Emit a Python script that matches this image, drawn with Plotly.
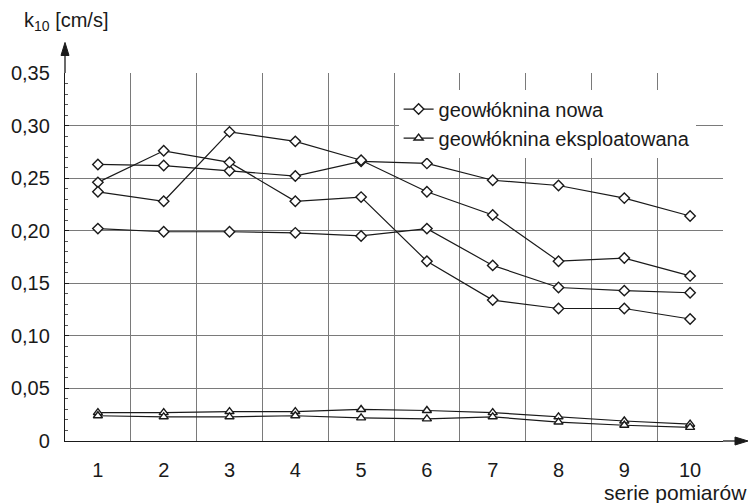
import numpy as np
import plotly.graph_objects as go

x = list(range(1, 11))
x_labels = [str(i) for i in x]

# geowłóknina nowa (4 series, diamonds)
nowa_1 = [0.263, 0.262, 0.257, 0.252, 0.266, 0.264, 0.248, 0.243, 0.231, 0.214]
nowa_2 = [0.246, 0.276, 0.265, 0.228, 0.232, 0.171, 0.134, 0.126, 0.126, 0.116]
nowa_3 = [0.237, 0.228, 0.294, 0.285, 0.267, 0.237, 0.215, 0.171, 0.174, 0.157]
nowa_4 = [0.202, 0.199, 0.199, 0.198, 0.195, 0.202, 0.167, 0.146, 0.143, 0.141]

# geowłóknina eksploatowana (2 series, triangles)
eksp_1 = [0.027, 0.027, 0.028, 0.028, 0.030, 0.029, 0.027, 0.023, 0.019, 0.016]
eksp_2 = [0.024, 0.023, 0.023, 0.024, 0.022, 0.021, 0.023, 0.018, 0.015, 0.013]

y_ticks = [0, 0.05, 0.10, 0.15, 0.20, 0.25, 0.30, 0.35]
y_labels = ["0", "0,05", "0,10", "0,15", "0,20", "0,25", "0,30", "0,35"]

FONT = "Liberation Sans, Arial, sans-serif"
INK = "#1a1a1a"

fig = go.Figure()

for i, s in enumerate([nowa_1, nowa_2, nowa_3, nowa_4]):
    fig.add_trace(go.Scatter(
        x=x, y=s, mode="lines+markers", name="geowłóknina nowa",
        legendgroup="nowa", showlegend=(i == 0),
        line=dict(color=INK, width=1.2),
        marker=dict(symbol="diamond", size=8, color="white",
                    line=dict(color=INK, width=1.4)),
    ))

for i, s in enumerate([eksp_1, eksp_2]):
    fig.add_trace(go.Scatter(
        x=x, y=s, mode="lines+markers", name="geowłóknina eksploatowana",
        legendgroup="eksp", showlegend=(i == 0),
        line=dict(color=INK, width=1.2),
        marker=dict(symbol="triangle-up", size=8, color="white",
                    line=dict(color=INK, width=1.4)),
    ))

fig.update_layout(
    width=750, height=503,
    margin=dict(l=65, r=27, t=73, b=62),
    paper_bgcolor="white", plot_bgcolor="white",
    font=dict(family=FONT, size=20, color=INK),
    showlegend=True,
    legend=dict(x=0.507, y=0.955, xanchor="left", yanchor="top",
                bgcolor="white", borderwidth=0,
                font=dict(size=20, color=INK),
                tracegroupgap=0, itemwidth=30),
    xaxis=dict(
        range=[0.5, 10.5], tickmode="array", tickvals=x, ticktext=x_labels,
        showgrid=False, zeroline=False, showline=True, linecolor=INK, linewidth=1.3,
        ticks="", ticklabelstandoff=11,
        tickfont=dict(size=20, color=INK),
        minor=dict(tickmode="array", tickvals=[v + 0.5 for v in x],
                   showgrid=True, gridcolor="#7a7a7a", gridwidth=1, ticks=""),
    ),
    yaxis=dict(
        range=[0, 0.35], tickmode="array", tickvals=y_ticks, ticktext=y_labels,
        showgrid=True, gridcolor="#7a7a7a", gridwidth=1,
        zeroline=False, showline=True, linecolor=INK, linewidth=1.3,
        ticks="inside", ticklen=4, tickcolor=INK, ticklabelstandoff=10,
        tickfont=dict(size=20, color=INK),
        minor=dict(tickmode="array", tickvals=list(np.round(np.arange(0, 0.351, 0.01), 3)),
                   ticks="inside", ticklen=3, tickcolor="#555", showgrid=False),
    ),
    shapes=[
        # y-axis extension with arrowhead
        dict(type="line", xref="paper", yref="paper", x0=0, x1=0, y0=1, y1=1.065,
             line=dict(color=INK, width=1.3)),
        dict(type="path", xref="paper", yref="paper", xsizemode="pixel", ysizemode="pixel",
             xanchor=0, yanchor=1.083, path="M 0 0 L -4 -13 L 4 -13 Z",
             fillcolor=INK, line=dict(color=INK, width=1)),
        # x-axis extension with arrowhead
        dict(type="line", xref="paper", yref="paper", x0=1, x1=1.02, y0=0, y1=0,
             line=dict(color=INK, width=1.3)),
        dict(type="path", xref="paper", yref="paper", xsizemode="pixel", ysizemode="pixel",
             xanchor=1.038, yanchor=0, path="M 0 0 L -13 4 L -13 -4 Z",
             fillcolor=INK, line=dict(color=INK, width=1)),
    ],
    annotations=[
        dict(xref="paper", yref="paper", x=-0.066, y=1.14, xanchor="left", yanchor="middle",
             showarrow=False, text="k<sub>10</sub> [cm/s]", font=dict(size=20, color=INK)),
        dict(xref="paper", yref="paper", x=1.04, y=-0.14, xanchor="right", yanchor="middle",
             showarrow=False, text="serie pomiarów", font=dict(size=21, color=INK)),
    ],
)

fig.write_html("out.html")
